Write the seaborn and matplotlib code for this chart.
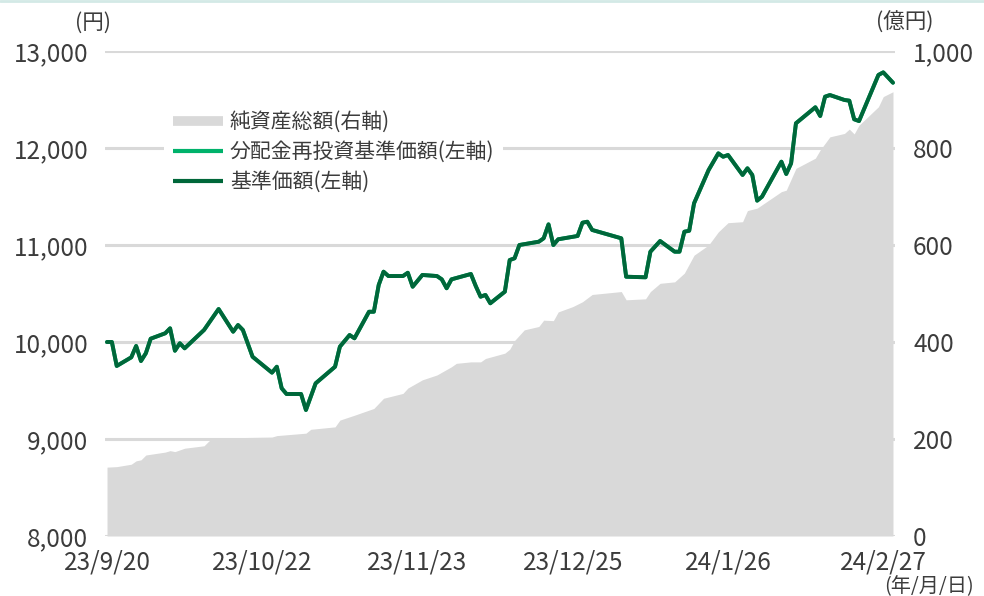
import matplotlib
matplotlib.use("Agg")
import matplotlib.pyplot as plt
from matplotlib.lines import Line2D
import seaborn as sns
import pandas as pd

# ---------------- data ----------------
price_dates = [
    "2023-09-20", "2023-09-21", "2023-09-22", "2023-09-25", "2023-09-26", "2023-09-27", "2023-09-28", "2023-09-29",
    "2023-10-02", "2023-10-03", "2023-10-04", "2023-10-05", "2023-10-06", "2023-10-10", "2023-10-13", "2023-10-16",
    "2023-10-17", "2023-10-18", "2023-10-20", "2023-10-24", "2023-10-25", "2023-10-26", "2023-10-27", "2023-10-30",
    "2023-10-31", "2023-11-02", "2023-11-06", "2023-11-07", "2023-11-09", "2023-11-10", "2023-11-13", "2023-11-14",
    "2023-11-15", "2023-11-16", "2023-11-17", "2023-11-20", "2023-11-21", "2023-11-22", "2023-11-24", "2023-11-27",
    "2023-11-28", "2023-11-29", "2023-11-30", "2023-12-04", "2023-12-05", "2023-12-06", "2023-12-07", "2023-12-08",
    "2023-12-11", "2023-12-12", "2023-12-13", "2023-12-14", "2023-12-18", "2023-12-19", "2023-12-20", "2023-12-21",
    "2023-12-22", "2023-12-26", "2023-12-27", "2023-12-28", "2023-12-29", "2024-01-04", "2024-01-05", "2024-01-09",
    "2024-01-10", "2024-01-12", "2024-01-15", "2024-01-16", "2024-01-17", "2024-01-18", "2024-01-19", "2024-01-22",
    "2024-01-24", "2024-01-25", "2024-01-26", "2024-01-29", "2024-01-30", "2024-01-31", "2024-02-01", "2024-02-02",
    "2024-02-06", "2024-02-07", "2024-02-08", "2024-02-09", "2024-02-13", "2024-02-14", "2024-02-15", "2024-02-16",
    "2024-02-19", "2024-02-20", "2024-02-21", "2024-02-22", "2024-02-26", "2024-02-27", "2024-02-29",
]
base_price = [
    10000, 10000, 9753, 9842, 9959, 9804, 9884, 10034,
    10090, 10141, 9910, 9987, 9935, 10124, 10340, 10106,
    10175, 10124, 9848, 9684, 9745, 9523, 9464, 9464,
    9299, 9574, 9745, 9952, 10072, 10038, 10312, 10312,
    10588, 10725, 10680, 10680, 10714, 10570, 10691, 10680,
    10646, 10554, 10646, 10701, 10577, 10467, 10485, 10399,
    10519, 10845, 10863, 11000, 11034, 11069, 11213, 11000,
    11059, 11093, 11230, 11240, 11155, 11069, 10673, 10667,
    10931, 11041, 10931, 10931, 11137, 11147, 11430, 11773,
    11945, 11910, 11928, 11722, 11791, 11722, 11457, 11498,
    11859, 11732, 11842, 12255, 12420, 12330, 12529, 12546,
    12495, 12488, 12296, 12278, 12753, 12780, 12673,
]
# no distributions paid: reinvested NAV equals the base price
reinvested_price = list(base_price)

nav_dates = [
    "2023-09-20", "2023-09-22", "2023-09-25", "2023-09-26", "2023-09-27", "2023-09-28", "2023-10-02", "2023-10-03",
    "2023-10-04", "2023-10-06", "2023-10-10", "2023-10-11", "2023-10-12", "2023-10-24", "2023-10-25", "2023-10-31",
    "2023-11-01", "2023-11-06", "2023-11-07", "2023-11-10", "2023-11-14", "2023-11-16", "2023-11-20", "2023-11-21",
    "2023-11-24", "2023-11-27", "2023-11-30", "2023-12-01", "2023-12-04", "2023-12-06", "2023-12-07", "2023-12-11",
    "2023-12-12", "2023-12-13", "2023-12-15", "2023-12-18", "2023-12-19", "2023-12-21", "2023-12-22", "2023-12-25",
    "2023-12-27", "2023-12-29", "2024-01-04", "2024-01-05", "2024-01-09", "2024-01-10", "2024-01-12", "2024-01-15",
    "2024-01-17", "2024-01-19", "2024-01-22", "2024-01-24", "2024-01-26", "2024-01-29", "2024-01-30", "2024-02-01",
    "2024-02-06", "2024-02-07", "2024-02-09", "2024-02-13", "2024-02-14", "2024-02-16", "2024-02-19", "2024-02-20",
    "2024-02-21", "2024-02-22", "2024-02-26", "2024-02-27", "2024-02-29",
]
net_assets = [
    142, 143, 148, 155, 157, 167, 173, 176,
    174, 181, 186, 196, 202, 204, 207, 212,
    220, 225, 239, 249, 263, 284, 294, 305,
    322, 332, 349, 356, 359, 359, 366, 377,
    385, 403, 425, 432, 445, 444, 462, 473,
    483, 498, 504, 487, 489, 504, 521, 524,
    542, 579, 600, 627, 646, 648, 671, 676,
    710, 713, 758, 779, 796, 823, 830, 839,
    829, 847, 885, 906, 916,
]

x_tick_dates = ["2023-09-20", "2023-10-22", "2023-11-23", "2023-12-25", "2024-01-26", "2024-02-27"]
x_tick_labels = ["23/9/20", "23/10/22", "23/11/23", "23/12/25", "24/1/26", "24/2/27"]
left_ticks = [8000, 9000, 10000, 11000, 12000, 13000]
right_ticks = [0, 200, 400, 600, 800, 1000]
legend_labels = ["純資産総額(右軸)", "分配金再投資基準価額(左軸)", "基準価額(左軸)"]

# ---------------- style ----------------
sns.set_theme(style="white")
plt.rcParams["font.family"] = ["Noto Sans CJK JP", "DejaVu Sans"]

DARK = "#00673a"
LIGHT = "#00b26b"
AREA = "#d9d9d9"
GRID = "#d9d9d9"
TXT = "#3c3c3c"
TICK_FS = 17.5
LEG_FS = 15

price_df = pd.DataFrame({
    "date": pd.to_datetime(price_dates),
    "base": base_price,
    "reinvest": reinvested_price,
})
nav_df = pd.DataFrame({"date": pd.to_datetime(nav_dates), "nav": net_assets})

fig = plt.figure(figsize=(9.84, 5.96), dpi=100)
# faint band at the very top of the reference image
fig.add_artist(Line2D([0, 1], [1 - 1 / 596, 1 - 1 / 596], transform=fig.transFigure,
                      color="#d3e9e6", linewidth=2))
ax = fig.add_axes([105 / 984, 60 / 596, 790 / 984, 485 / 596])
ax2 = ax.twinx()

# back axis: grid + net assets area
ax2.set_axisbelow(True)
ax2.yaxis.grid(True, color=GRID, linewidth=2.2, zorder=0)
ax2.fill_between(nav_df["date"], 0, nav_df["nav"], color=AREA, linewidth=0, zorder=1)
ax2.set_ylim(0, 1000)
ax2.set_yticks(right_ticks)
ax2.set_yticklabels([f"{v:,}" for v in right_ticks])

# front axis: price lines
ax.set_zorder(ax2.get_zorder() + 1)
ax.patch.set_visible(False)
sns.lineplot(data=price_df, x="date", y="reinvest", ax=ax, color=LIGHT, linewidth=2.8, zorder=3)
sns.lineplot(data=price_df, x="date", y="base", ax=ax, color=DARK, linewidth=2.8, zorder=4)
ax.set_ylim(8000, 13000)
ax.set_yticks(left_ticks)
ax.set_yticklabels([f"{v:,}" for v in left_ticks])
ax.set_xlim(pd.Timestamp("2023-09-20") - pd.Timedelta(hours=10),
            pd.Timestamp("2024-02-29") + pd.Timedelta(hours=10))
ax.set_xticks(pd.to_datetime(x_tick_dates))
ax.set_xticklabels(x_tick_labels)
ax.set_xlabel("")
ax.set_ylabel("")
ax.grid(False)

for a in (ax, ax2):
    for s in a.spines.values():
        s.set_visible(False)
ax.tick_params(axis="y", length=0, pad=12, labelsize=TICK_FS, labelcolor=TXT)
ax.tick_params(axis="x", length=0, pad=10, labelsize=TICK_FS, labelcolor=TXT)
ax2.tick_params(axis="y", length=0, pad=13, labelsize=TICK_FS, labelcolor=TXT)

handles = [
    Line2D([0], [0], color=AREA, linewidth=7, solid_capstyle="butt"),
    Line2D([0], [0], color=LIGHT, linewidth=3, solid_capstyle="butt"),
    Line2D([0], [0], color=DARK, linewidth=3, solid_capstyle="butt"),
]
leg = ax.legend(handles, legend_labels, loc="upper left", bbox_to_anchor=(0.075, 0.893),
                frameon=True, facecolor="white", edgecolor="none", framealpha=1,
                fontsize=LEG_FS, handlelength=2.4, handletextpad=0.35,
                labelspacing=0.38, borderpad=0.4, borderaxespad=0)
for t in leg.get_texts():
    t.set_color(TXT)

fig.text(93 / 984, 1 - 23 / 596, "(円)", ha="center", va="center", fontsize=TICK_FS - 2, color=TXT)
fig.text(905 / 984, 1 - 23 / 596, "(億円)", ha="center", va="center", fontsize=TICK_FS - 2, color=TXT)
fig.text(884 / 984, 1 - 587 / 596, "(年/月/日)", ha="left", va="center", fontsize=TICK_FS - 3, color=TXT)

fig.savefig("out.png", dpi=100)
